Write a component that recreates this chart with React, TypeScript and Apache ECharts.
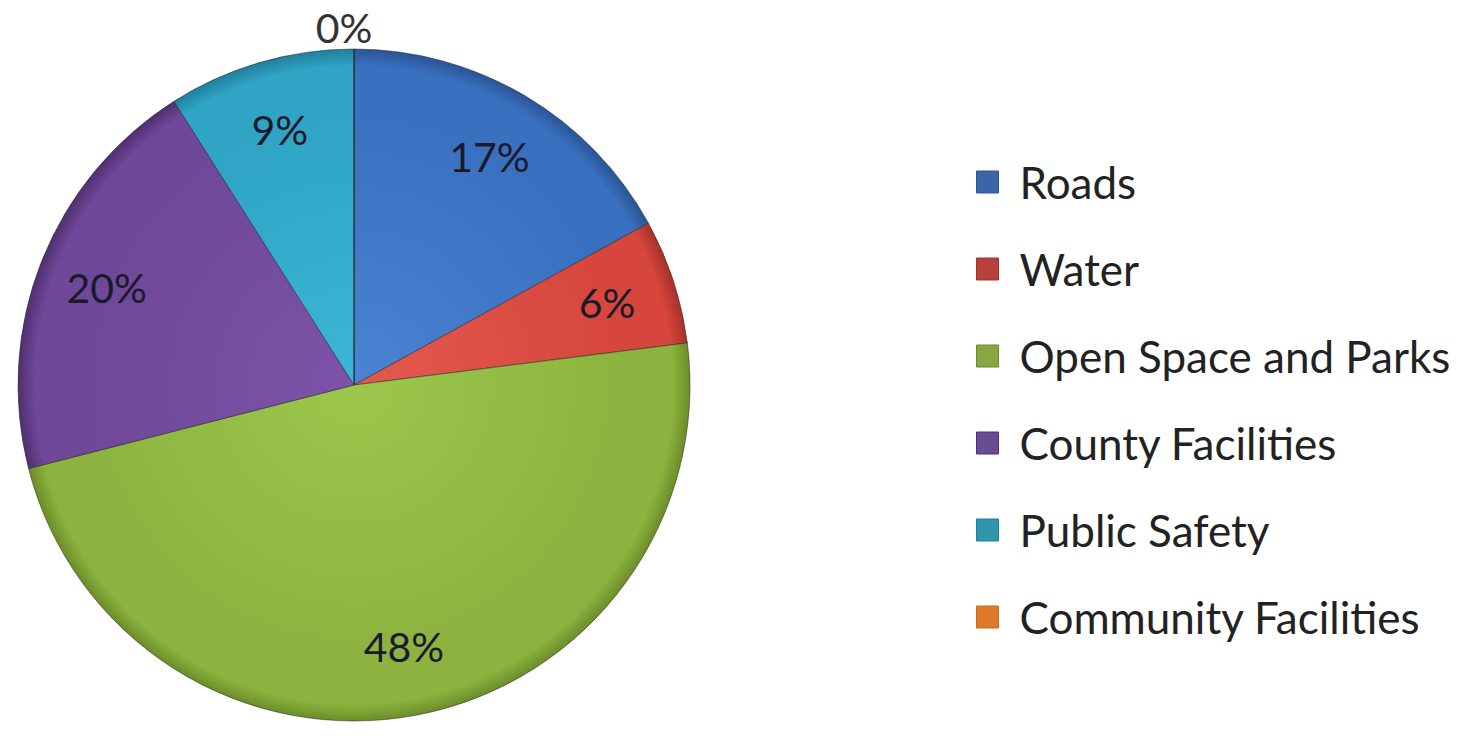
import React, { useEffect, useRef } from "react";
import * as echarts from "echarts";

const categories = [
  "Roads",
  "Water",
  "Open Space and Parks",
  "County Facilities",
  "Public Safety",
  "Community Facilities",
];
const shares = [17, 6, 48, 20, 9, 0];
const baseColors = ["#3a70c0", "#d6463c", "#8cb33f", "#6f4899", "#2fa4c4", "#f58a2d"];
const lightColors = ["#4a84d2", "#e45a4e", "#9cc74c", "#7c53a8", "#3cb6d6", "#ff9c45"];
const darkColors = ["#2a5596", "#a8302a", "#6b8e28", "#4f2f70", "#1f7f9c", "#c66a1c"];
const legendColors = ["#3a66a8", "#b8403c", "#86a842", "#6a4c94", "#2f96ad", "#e07a28"];

const CX = 354;
const CY = 385;
const R = 336;
const FONT = "Lato, 'Open Sans', sans-serif";

export default function App() {
  const ref = useRef<HTMLDivElement>(null);
  useEffect(() => {
    if (!ref.current) return;
    const chart = echarts.init(ref.current, null, { renderer: "svg" });
    const fillFor = (i: number) => ({
      type: "radial",
      x: CX,
      y: CY,
      r: R,
      global: true,
      colorStops: [
        { offset: 0, color: lightColors[i] },
        { offset: 0.8, color: baseColors[i] },
        { offset: 0.95, color: baseColors[i] },
        { offset: 1, color: darkColors[i] },
      ],
    });
    const option: any = {
      animation: false,
      backgroundColor: "#ffffff",
      legend: {
        orient: "vertical",
        left: 976,
        top: 160,
        padding: 0,
        itemWidth: 22,
        itemHeight: 22,
        itemGap: 43,
        icon: "rect",
        textStyle: {
          fontFamily: FONT,
          fontSize: 44,
          lineHeight: 40,
          color: "#222222",
          padding: [0, 0, 0, 16],
        },
        data: categories.map((name, i) => ({
          name,
          itemStyle: { color: legendColors[i], borderColor: darkColors[i], borderWidth: 1 },
        })),
      },
      series: [
        {
          type: "pie",
          center: [CX, CY],
          radius: R,
          startAngle: 90,
          clockwise: true,
          avoidLabelOverlap: false,
          label: { show: false },
          labelLine: { show: false },
          emphasis: { disabled: true },
          data: categories.map((name, i) => ({
            name,
            value: shares[i],
            itemStyle: {
              color: fillFor(i),
              borderColor: "rgba(40,40,40,0.55)",
              borderWidth: 1,
            },
          })),
        },
        {
          type: "pie",
          center: [CX, CY],
          radius: [190, R],
          startAngle: 90,
          clockwise: true,
          silent: true,
          avoidLabelOverlap: false,
          itemStyle: { color: "rgba(0,0,0,0)", borderWidth: 0 },
          emphasis: { disabled: true },
          label: {
            show: true,
            position: "inside",
            fontFamily: FONT,
            fontSize: 41,
            color: "#1a1a2a",
            formatter: (p: any) => Math.round(p.percent) + "%",
          },
          labelLine: { show: false },
          labelLayout: (p: any) => (p.dataIndex === 5 ? { align: "center", dx: -5 } : {}),
          data: categories.map((name, i) => ({
            name,
            value: shares[i],
            ...(shares[i] === 0
              ? {
                  label: { position: "outside", color: "#333333" },
                  labelLine: { show: false, length: 22, length2: 0 },
                }
              : {}),
          })),
        },
      ],
    };
    chart.setOption(option);
    return () => chart.dispose();
  }, []);
  return (
    <div
      ref={ref}
      style={{ position: "fixed", left: 0, top: 0, width: 1470, height: 740, background: "#fff" }}
    />
  );
}
